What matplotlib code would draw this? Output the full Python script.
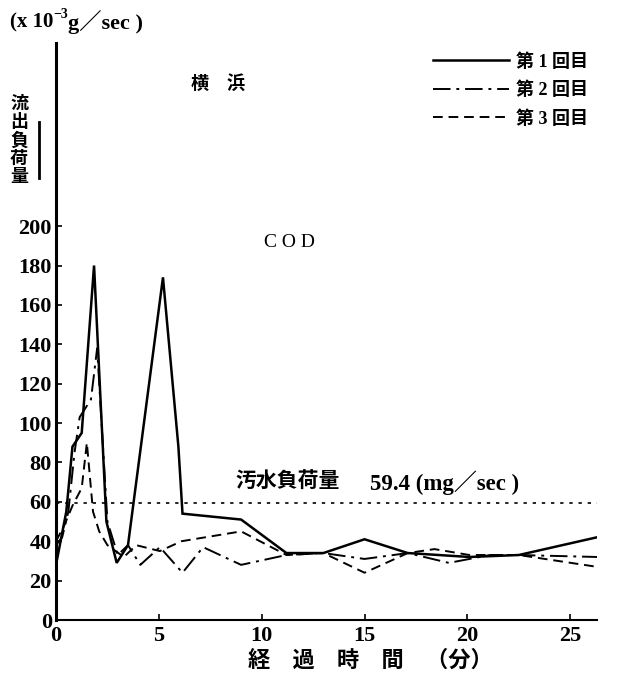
import matplotlib
matplotlib.use("Agg")
import matplotlib.pyplot as plt
from matplotlib.lines import Line2D

plt.rcParams['font.family'] = ['Liberation Serif', 'Noto Sans CJK JP', 'DejaVu Sans']
plt.rcParams['mathtext.fontset'] = 'custom'
plt.rcParams['mathtext.rm'] = 'Liberation Serif:bold'
plt.rcParams['mathtext.bf'] = 'Liberation Serif:bold'
plt.rcParams['mathtext.default'] = 'regular'

# ---- data ----
t1 = [0, 0.5, 0.8, 1.25, 1.85, 2.45, 2.95, 3.5, 5.2, 5.95, 6.15, 9.0, 11.2, 13.0, 15.0, 17.1, 20.1, 22.5, 26.3]
v1 = [28, 55, 88, 95, 180, 50, 29, 38, 174, 88, 54, 51, 34, 34, 41, 34, 32, 33, 42]

t2 = [0, 0.3, 0.6, 0.9, 1.15, 1.7, 2.0, 2.5, 3.0, 3.5, 4.1, 5.05, 6.15, 7.15, 9.0, 11.2, 13.0, 15.0, 17.1, 19.1, 21.1, 22.5, 26.3]
v2 = [38, 42, 55, 85, 103, 112, 138, 50, 33, 38, 28, 37, 24, 37, 28, 33, 34, 31, 34, 29, 33, 33, 32]

t3 = [0, 0.4, 0.8, 1.25, 1.5, 1.8, 2.1, 2.5, 3.3, 3.9, 5.05, 6.1, 9.0, 11.2, 13.0, 15.0, 17.1, 18.4, 20.1, 22.5, 26.3]
v3 = [40, 48, 58, 67, 90, 55, 45, 38, 32, 38, 35, 40, 45, 33, 34, 24, 34, 36, 33, 33, 27]

sewage_load = 59.4
series_labels = ['第 1 回目', '第 2 回目', '第 3 回目']
x_ticks = [0, 5, 10, 15, 20, 25]
y_ticks = [0, 20, 40, 60, 80, 100, 120, 140, 160, 180, 200]

W, H = 617, 679
fig = plt.figure(figsize=(W / 100, H / 100), dpi=100)
renderer = fig.canvas.get_renderer()

def fx(x):
    return x / W

def fy(y):
    return 1 - y / H

ax = fig.add_axes([fx(56), fy(620), (597 - 56) / W, (620 - 43) / H])
ax.set_xlim(0, 26.3)
ax.set_ylim(0, 293)

l1, = ax.plot(t1, v1, color='black', lw=1.8, solid_joinstyle='miter')
l2, = ax.plot(t2, v2, color='black', lw=1.4, linestyle=(0, (9, 3, 1.5, 3)))
l3, = ax.plot(t3, v3, color='black', lw=1.4, linestyle=(0, (5, 3)))
ax.plot([0, 26.3], [sewage_load, sewage_load], color='black', lw=1.2, linestyle=(0, (2, 3.5)))

for s in ['top', 'right']:
    ax.spines[s].set_visible(False)
ax.spines['left'].set_linewidth(2.2)
ax.spines['bottom'].set_linewidth(1.5)

ax.set_xticks(x_ticks)
ax.set_yticks(y_ticks)
ax.tick_params(axis='both', direction='in', length=4, width=1.2, labelsize=16)
ax.tick_params(axis='y', pad=3)
ax.tick_params(axis='x', pad=4)
for lab in ax.get_xticklabels() + ax.get_yticklabels():
    lab.set_fontweight('bold')

# legend
fig.legend(handles=[l1, l2, l3], labels=series_labels, loc='upper left',
           bbox_to_anchor=(fx(417), fy(37)), frameon=False,
           handlelength=4.2, handletextpad=0.4, labelspacing=0.6,
           prop={'weight': 'bold', 'size': 13})

# unit label built from pieces
def seq_text(x0, y0, pieces):
    x = x0
    for s, size, dy in pieces:
        t = fig.text(fx(x), fy(y0 + dy), s, fontsize=size, fontweight='bold',
                     ha='left', va='center')
        bb = t.get_window_extent(renderer=renderer)
        x += bb.width
    return x

seq_text(10, 22, [('(x 10', 15, 0), ('−3', 10, -7), ('g／sec )', 16, 0)])

fig.text(fx(218), fy(84), '横　浜', fontsize=13, fontweight='bold', ha='center', va='center')
fig.text(fx(289), fy(242), 'C O D', fontsize=14, ha='center', va='center')
fig.text(fx(235), fy(483), '汚水負荷量', fontsize=15, fontweight='bold',
         ha='left', va='center')
fig.text(fx(370), fy(483), '59.4 (mg／sec )', fontsize=16.5, fontweight='bold',
         ha='left', va='center')
fig.text(fx(19), fy(141), '流\n出\n負\n荷\n量', fontsize=13, fontweight='bold',
         ha='center', va='center', linespacing=1.08)
fig.add_artist(Line2D([fx(39), fx(39)], [fy(122), fy(178)], color='black', lw=2))
fig.text(fx(370), fy(661), '経　過　時　間　（分）', fontsize=16, fontweight='bold',
         ha='center', va='center')

fig.savefig('out.png', dpi=100)
